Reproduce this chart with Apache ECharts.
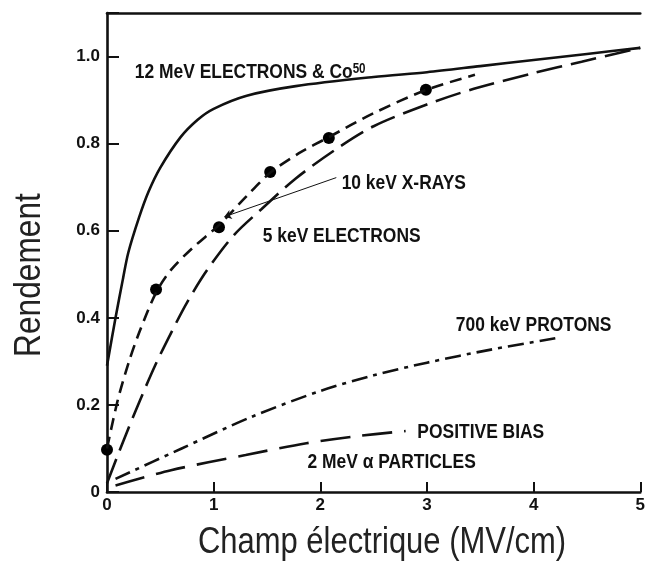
<!DOCTYPE html>
<html>
<head>
<meta charset="utf-8">
<script src="https://cdn.jsdelivr.net/npm/echarts@6/dist/echarts.min.js"></script>
<style>
  html, body { margin: 0; padding: 0; background: #fff; }
  #chart { width: 648px; height: 565px; }
</style>
</head>
<body>
<div id="chart"></div>
<script>
var chart = echarts.init(document.getElementById('chart'));

var SANS = "'Liberation Sans', Arial, sans-serif";

// curves: [field MV/cm, yield]
var electronsCo60 = [[0, 0.29], [0.08, 0.40], [0.15, 0.49], [0.2, 0.55], [0.3, 0.63], [0.39, 0.69],
  [0.5, 0.745], [0.69, 0.815], [0.85, 0.855], [1.0, 0.88], [1.31, 0.91], [1.77, 0.932],
  [2.5, 0.953], [3.0, 0.964], [3.5, 0.978], [4.0, 0.992], [4.5, 1.006], [5.0, 1.02]];

var xrays10keV = [[0, 0.1], [0.1, 0.21], [0.2, 0.295], [0.3, 0.365], [0.46, 0.458], [0.6, 0.51],
  [0.8, 0.56], [1.05, 0.613], [1.3, 0.677], [1.53, 0.733], [1.8, 0.778], [2.08, 0.815],
  [2.5, 0.87], [3.0, 0.924], [3.45, 0.958]];

var xrayPoints = [[0, 0.097], [0.46, 0.465], [1.05, 0.608], [1.53, 0.735], [2.08, 0.813], [2.99, 0.924]];

var electrons5keV = [[0, 0.02], [0.15, 0.115], [0.3, 0.205], [0.45, 0.29], [0.6, 0.365], [0.75, 0.435],
  [0.94, 0.51], [1.19, 0.59], [1.45, 0.65], [1.77, 0.72], [2.14, 0.786], [2.5, 0.84],
  [3.0, 0.89], [3.44, 0.926], [4.0, 0.962], [4.45, 0.988], [5.0, 1.02]];

var protons700keV = [[0.08, 0.03], [0.7, 0.1], [1.35, 0.172], [2.0, 0.232], [2.5, 0.268],
  [3.0, 0.297], [3.6, 0.327], [4.25, 0.355]];

var alpha2MeV = [[0.08, 0.015], [0.6, 0.05], [1.3, 0.085], [1.87, 0.112], [2.3, 0.127], [2.8, 0.14]];

var yLabelValues = [0, 0.2, 0.4, 0.6, 0.8, 1.0];

// curve labels, anchored at their left edge (data coords)
var noteTexts = ['12 MeV ELECTRONS & Co{sup|50}', '10 keV X-RAYS', '5 keV ELECTRONS',
  '700 keV PROTONS', 'POSITIVE BIAS', '2 MeV α PARTICLES'];
var noteAnchors = [[0.26, 0.963], [2.2, 0.71], [1.46, 0.588], [3.27, 0.382], [2.91, 0.138], [1.88, 0.069]];

function lineSeries(name, data, dash) {
  return {
    name: name,
    type: 'line',
    data: data,
    smooth: 0.3,
    symbol: 'none',
    silent: true,
    lineStyle: { color: '#111', width: 2.6, type: dash }
  };
}

var option = {
  backgroundColor: '#fff',
  animation: false,
  grid: { left: 107, right: 0, top: 13, bottom: 73 },
  xAxis: [{
    type: 'value',
    min: 0, max: 5, interval: 1,
    axisLine: { show: true, lineStyle: { color: '#111', width: 2.6 } },
    axisTick: { show: true, inside: true, length: 10, lineStyle: { color: '#111', width: 2 } },
    axisLabel: { color: '#111', fontFamily: SANS, fontWeight: 'bold', fontSize: 17, margin: 5 },
    splitLine: { show: false }
  }, {
    type: 'value',
    position: 'top',
    min: 0, max: 5,
    axisLine: { show: true, onZero: false, lineStyle: { color: '#111', width: 2.6 } },
    axisTick: { show: false },
    axisLabel: { show: false },
    splitLine: { show: false }
  }],
  yAxis: {
    type: 'value',
    min: 0, max: 1.1, interval: 0.2,
    axisLine: { show: true, lineStyle: { color: '#111', width: 2.6 } },
    axisTick: { show: true, inside: true, length: 12, lineStyle: { color: '#111', width: 2 } },
    axisLabel: {
      color: '#111', fontFamily: SANS, fontWeight: 'bold', fontSize: 17, margin: 7,
      formatter: function (v) {
        var hit = yLabelValues.some(function (t) { return Math.abs(t - v) < 1e-6; });
        if (!hit) return '';
        return v === 0 ? '0' : v.toFixed(1);
      }
    },
    splitLine: { show: false }
  },
  series: [
    lineSeries('12 MeV electrons & Co60', electronsCo60, 'solid'),
    lineSeries('10 keV X-rays', xrays10keV, [12, 7]),
    lineSeries('5 keV electrons', electrons5keV, [26, 9]),
    lineSeries('700 keV protons', protons700keV, [16, 6, 4, 6]),
    lineSeries('2 MeV alpha', alpha2MeV, [30, 12]),
    {
      name: 'points',
      type: 'scatter',
      data: xrayPoints,
      symbol: 'circle',
      symbolSize: 12,
      silent: true,
      itemStyle: { color: '#000', opacity: 1 },
      markLine: {
        silent: true,
        symbol: ['none', 'arrow'],
        symbolSize: 7,
        label: { show: false },
        lineStyle: { color: '#111', width: 1, type: 'solid' },
        data: [[{ coord: [2.15, 0.722] }, { coord: [1.1, 0.632] }]]
      }
    }
  ]
};

chart.setOption(option);

// text placed after layout, from data coordinates
var graphics = [];
for (var i = 0; i < noteTexts.length; i++) {
  var p = chart.convertToPixel({ gridIndex: 0 }, noteAnchors[i]);
  graphics.push({
    type: 'text',
    x: p[0], y: p[1],
    scaleX: 0.83,
    silent: true,
    style: {
      text: noteTexts[i],
      x: 0, y: 0,
      fill: '#111',
      font: 'bold 21px ' + SANS,
      textAlign: 'left',
      textVerticalAlign: 'middle',
      rich: {
        sup: { font: 'bold 14px ' + SANS, fill: '#111', verticalAlign: 'top' }
      }
    }
  });
}
graphics.push({
  type: 'text',
  x: 382, y: 543,
  scaleX: 0.86,
  silent: true,
  style: {
    text: 'Champ électrique (MV/cm)',
    fill: '#222',
    font: '36px ' + SANS,
    textAlign: 'center',
    textVerticalAlign: 'middle'
  }
});
graphics.push({
  type: 'text',
  x: 30, y: 275,
  rotation: Math.PI / 2,
  scaleX: 0.88,
  silent: true,
  style: {
    text: 'Rendement',
    fill: '#222',
    font: '36px ' + SANS,
    textAlign: 'center',
    textVerticalAlign: 'middle'
  }
});
chart.setOption({ graphic: graphics });
</script>
</body>
</html>
